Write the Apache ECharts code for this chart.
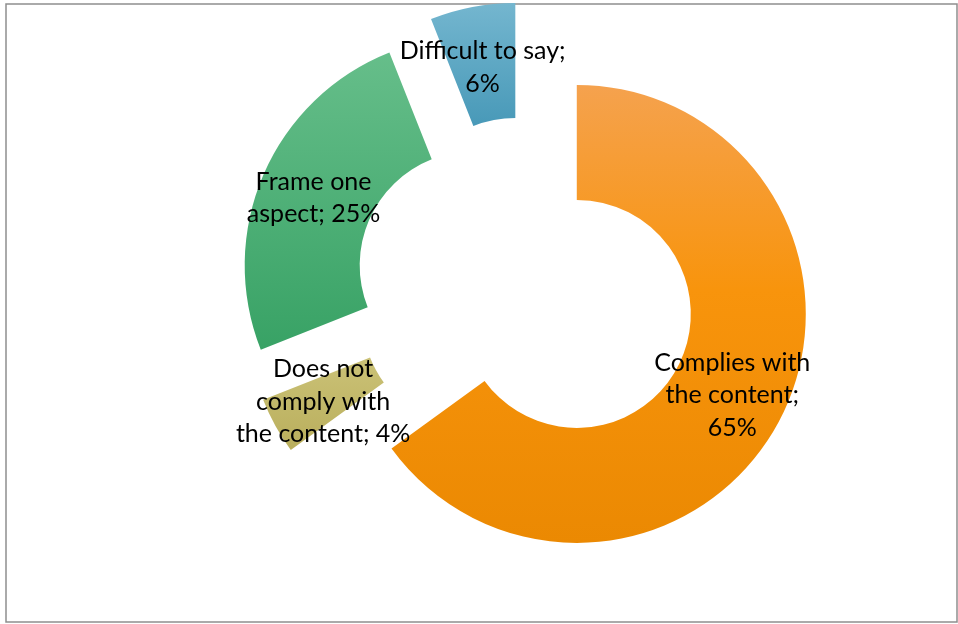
<!DOCTYPE html>
<html>
<head>
<meta charset="utf-8">
<script src="https://cdn.jsdelivr.net/npm/echarts@6/dist/echarts.min.js"></script>
<style>
  html, body { margin: 0; padding: 0; background: #ffffff; }
  #chart { width: 958px; height: 624px; }
</style>
</head>
<body>
<div id="chart"></div>
<script>
// Answer shares, in clockwise order from 12 o'clock
const categories = ['Complies with the content', 'Does not comply with the content', 'Frame one aspect', 'Difficult to say'];
const shares = [65, 4, 25, 6];
// Wrapped label names and whether the percentage goes on its own line
const labelNames = ['Complies with\nthe content', 'Does not\ncomply with\nthe content', 'Frame one\naspect', 'Difficult to say'];
const valueOnNewLine = [true, false, false, true];

// Vertical gradient stops per slice: [offset, colour]
const gradients = [
  [[0, '#F5A24E'], [0.45, '#F8940C'], [1, '#EB8902']],
  [[0, '#CBC277'], [1, '#B9AE5C']],
  [[0, '#66BE8A'], [1, '#38A265']],
  [[0, '#74B6CF'], [1, '#4899B8']]
];

function fill(stops) {
  return new echarts.graphic.LinearGradient(0, 0, 0, 1,
    stops.map(function (s) { return { offset: s[0], color: s[1] }; }));
}

const chart = echarts.init(document.getElementById('chart'), null, { renderer: 'canvas' });

chart.setOption({
  animation: false,
  backgroundColor: '#ffffff',
  graphic: [{
    type: 'rect',
    shape: { x: 6, y: 4, width: 951, height: 618 },
    style: { fill: 'none', stroke: '#8E8E8E', lineWidth: 1.5 },
    silent: true
  }],
  series: [{
    type: 'pie',
    center: [526, 288],
    radius: [114, 229],
    startAngle: 90,
    clockwise: true,
    selectedMode: 'multiple',
    selectedOffset: 57,
    avoidLabelOverlap: false,
    emphasis: { disabled: true },
    label: {
      show: true,
      position: 'inside',
      color: '#000000',
      fontFamily: 'Lato, "Liberation Sans", sans-serif',
      fontSize: 25,
      lineHeight: 32.5,
      align: 'center',
      formatter: function (p) {
        const i = p.dataIndex;
        return labelNames[i] + ';' + (valueOnNewLine[i] ? '\n' : ' ') + shares[i] + '%';
      }
    },
    labelLayout: function (params) {
      // nudge the small top slice's label down a little
      return params.dataIndex === 3 ? { dy: 7 } : { dy: 2 };
    },
    labelLine: { show: false },
    data: categories.map(function (name, i) {
      return {
        name: name,
        value: shares[i],
        selected: true,
        itemStyle: { color: fill(gradients[i]) },
        select: { itemStyle: { color: fill(gradients[i]) } }
      };
    })
  }]
});
</script>
</body>
</html>
